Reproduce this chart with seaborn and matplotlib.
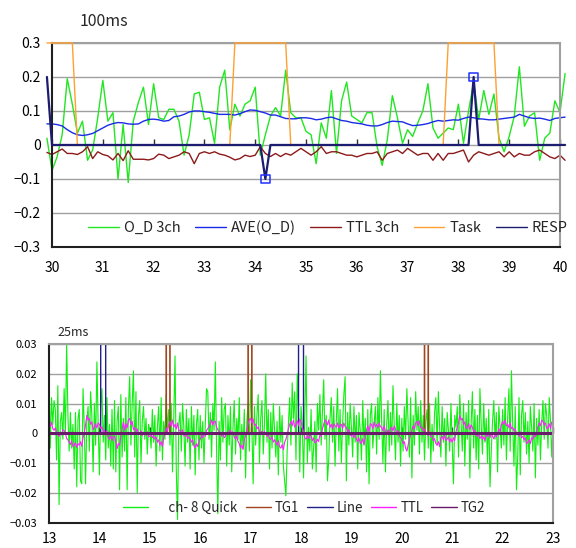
import numpy as np
import pandas as pd
from matplotlib import pyplot as plt
import seaborn as sns

# ---- 100ms chart, samples 29.9 .. 40.1 s
t100 = np.round(np.arange(299, 402) * 0.1, 1)

od_3ch = [0.02,
          -0.075, -0.035, 0.03, 0.195, 0.12, 0.035, 0.07, -0.045, -0.015, 0.08,
          0.19, 0.07, 0.095, -0.1, 0.06, -0.11, 0.07, 0.125, 0.17, 0.06,
          0.18, 0.08, 0.075, 0.105, 0.105, 0.07, -0.03, 0.03, 0.15, 0.155,
          0.075, 0.08, 0.005, 0.17, 0.22, 0.045, 0.12, 0.085, 0.12, 0.13,
          0.17, -0.03, 0.03, 0.085, 0.11, 0.085, 0.22, 0.095, 0.08, 0.08,
          0.04, 0.03, -0.055, 0.065, 0.02, 0.16, -0.025, 0.13, 0.185, 0.085,
          0.075, 0.065, 0.095, 0.095, -0.005, -0.06, 0.015, 0.145, 0.08, 0.005,
          0.045, 0.025, 0.065, 0.1, 0.18, 0.05, 0.02, 0.035, 0.05, 0.045,
          0.12, 0.005, 0.1, 0.185, 0.075, 0.16, 0.09, 0.15, 0.02, -0.02,
          0.025, 0.085, 0.23, 0.055, 0.085, 0.095, -0.045, 0.02, 0.035, 0.13,
          0.095, 0.21]

ave_od = [0.062,
          0.062, 0.06, 0.056, 0.045, 0.036, 0.03, 0.028, 0.03, 0.034, 0.042,
          0.05, 0.058, 0.063, 0.066, 0.065, 0.062, 0.061, 0.062, 0.07, 0.075,
          0.076, 0.074, 0.07, 0.072, 0.083, 0.085, 0.09, 0.097, 0.1, 0.1,
          0.098, 0.096, 0.093, 0.09, 0.09, 0.09, 0.088, 0.092, 0.098, 0.103,
          0.102, 0.098, 0.094, 0.088, 0.088, 0.083, 0.078, 0.077, 0.077, 0.08,
          0.08, 0.078, 0.074, 0.076, 0.08, 0.082, 0.077, 0.072, 0.07, 0.066,
          0.064, 0.062, 0.058, 0.056, 0.056, 0.06, 0.066, 0.07, 0.069, 0.068,
          0.062, 0.057, 0.058, 0.06, 0.063, 0.068, 0.072, 0.07, 0.072, 0.074,
          0.073, 0.078, 0.082, 0.08, 0.077, 0.076, 0.074, 0.074, 0.076, 0.078,
          0.08, 0.082, 0.09, 0.085, 0.08, 0.078, 0.079, 0.076, 0.072, 0.078,
          0.08, 0.082]

ttl_3ch = [-0.022,
           -0.028, -0.02, -0.012, -0.025, -0.025, -0.028, -0.02, -0.005, -0.04, -0.02,
           -0.028, -0.032, -0.044, -0.025, -0.046, -0.017, -0.042, -0.042, -0.042, -0.044,
           -0.04, -0.027, -0.03, -0.04, -0.035, -0.03, -0.02, -0.025, -0.055, -0.025,
           -0.02, -0.025, -0.02, -0.027, -0.03, -0.036, -0.044, -0.04, -0.03, -0.034,
           -0.03, -0.005, -0.025, -0.034, -0.025, -0.034, -0.025, -0.03, -0.02, -0.01,
           -0.02, -0.03, -0.02, -0.005, -0.025, -0.02, -0.02, -0.025, -0.03, -0.03,
           -0.035, -0.03, -0.025, -0.025, -0.02, -0.045, -0.025, -0.02, -0.015, -0.025,
           -0.01, -0.02, -0.03, -0.025, -0.025, -0.045, -0.025, -0.045, -0.025, -0.025,
           -0.02, -0.015, -0.05, -0.03, -0.02, -0.025, -0.03, -0.025, -0.02, -0.035,
           -0.02, -0.035, -0.025, -0.03, -0.03, -0.02, -0.015, -0.025, -0.035, -0.04,
           -0.03, -0.045]

task = [0.3,
        0.3, 0.3, 0.3, 0.3, 0.3, 0, 0, 0, 0, 0,
        0, 0, 0, 0, 0, 0, 0, 0, 0, 0,
        0, 0, 0, 0, 0, 0, 0, 0, 0, 0,
        0, 0, 0, 0, 0, 0, 0.3, 0.3, 0.3, 0.3,
        0.3, 0.3, 0.3, 0.3, 0.3, 0.3, 0.3, 0, 0, 0,
        0, 0, 0, 0, 0, 0, 0, 0, 0, 0,
        0, 0, 0, 0, 0, 0, 0, 0, 0, 0,
        0, 0, 0, 0, 0, 0, 0, 0, 0.3, 0.3,
        0.3, 0.3, 0.3, 0.3, 0.3, 0.3, 0.3, 0.3, 0, 0,
        0, 0, 0, 0, 0, 0, 0, 0, 0, 0,
        0, 0]

resp = [0.2,
        0, 0, 0, 0, 0, 0, 0, 0, 0, 0,
        0, 0, 0, 0, 0, 0, 0, 0, 0, 0,
        0, 0, 0, 0, 0, 0, 0, 0, 0, 0,
        0, 0, 0, 0, 0, 0, 0, 0, 0, 0,
        0, 0, -0.1, 0, 0, 0, 0, 0, 0, 0,
        0, 0, 0, 0, 0, 0, 0, 0, 0, 0,
        0, 0, 0, 0, 0, 0, 0, 0, 0, 0,
        0, 0, 0, 0, 0, 0, 0, 0, 0, 0,
        0, 0, 0, 0.2, 0, 0, 0, 0, 0, 0,
        0, 0, 0, 0, 0, 0, 0, 0, 0, 0,
        0, 0]

# ---- 25ms chart, samples 13.000 .. 23.000 s
t25 = np.round(np.arange(520, 921) * 0.025, 3)

# ch-8 Quick, in units of 0.001
quick_ch8 = [
    20, -5, 12, 3, 11, 8, -9, 16, -24, 4, 7, -2, 15, 0, 30, 6, -6, 7, -5, 3,
    -12, 7, -18, 5, 8, -16, -17, 15, 2, -17, 4, 9, -6, 14, 6, -13, 10, -4, 24, 3,
    -14, 9, 15, -3, 6, -9, 12, -5, 3, -11, 8, -12, 11, -13, 4, 9, -19, 13, -8, 5,
    -6, 12, -19, 8, 19, -4, 10, 21, -8, 14, -20, 6, 11, -10, 4, 9, -2, 5, -7, 3,
    1, -5, 8, -3, 6, -11, 2, 9, -6, 12, -9, 4, -2, 13, 1, 8, -4, 10, -13, 5,
    26, -12, -29, 3, 7, -6, 10, 2, -11, 8, -3, 5, -12, 9, -4, 6, -14, 3, 8, -9,
    6, -5, 4, -10, 3, 15, 14, -2, 7, -8, 10, 1, 24, -6, -27, 4, -9, 12, -3, 8,
    10, -11, 6, -4, 9, -13, 2, 11, -7, 5, -2, 12, -9, 3, -5, 8, -15, 4, 10, -6,
    18, 2, -17, 9, -4, 6, 13, -10, 5, 11, -7, 3, 20, -3, 8, -12, 7, -5, 10, 1,
    -8, 4, -14, 9, -3, 6, -11, -16, -21, -6, 3, 12, -4, 17, 5, 14, -9, 20, 8, -13,
    9, 3, -15, 6, 26, -10, 2, -6, 8, -12, -5, 4, -13, 10, 1, 13, -4, 7, 18, -2,
    6, -16, -9, 5, 12, -3, 9, -11, 4, 15, -6, 8, -10, 3, 13, 19, -16, 7, -4, 10,
    2, -8, 9, -3, 6, -12, 7, 1, -9, 11, -4, 5, -13, 8, -17, 6, 10, -5, 3, 9,
    -7, 12, -2, 21, 4, -10, 8, -13, 3, 11, -6, 7, -4, 16, 2, -9, 10, -3, 6, -11,
    5, -6, 9, -2, 15, 3, -8, 12, -15, 6, -4, 14, 1, 9, -7, 11, -3, 6, -9, 4,
    8, -5, 10, -10, 3, -6, 7, 12, -4, 14, 2, -8, 9, -3, 5, -11, 7, 1, -6, 10,
    -4, -17, 6, 2, 9, -8, 13, 4, -6, 10, -11, 7, -2, 11, -15, 3, 14, -5, 8, -9,
    6, -12, 15, 3, -7, 10, -3, 5, -10, 8, -18, -6, 4, 11, -2, 7, -13, 9, 2, -5,
    8, -4, 12, -9, 5, 15, -6, 21, 3, -11, 9, -19, -8, 12, -14, 6, 11, -3, 7, -7,
    4, -10, 9, 2, -6, 10, -15, 5, -4, 8, -9, 3, 11, -2, 10, 6, -5, 12, 4, -8, 3]

# TTL, in units of 0.0001
ttl_25 = [
    30, 22, 38, 15, 10, 18, 2, -5, -10, 4, -6, 12, 10, 0, -18, -22, -30, -38, -25, -45,
    -40, -32, -48, -35, -40, -28, -44, -15, 0, 28, 60, 45, 50, 30, 38, 12, 20, 32, 18, 35,
    30, 15, 22, 5, 10, -6, 8, -15, -20, -8, -25, -12, -10, -30, -52, -35, -40, -10, 15, 38,
    10, 32, 18, 45, 50, 28, 40, 12, 20, 5, 15, -5, 0, 8, -8, 4, 0, -6, 5, -12,
    -10, -2, -15, -8, -20, -12, -30, -22, -40, -28, -45, -15, 0, 18, 5, 30, 40, 25, 45, 20,
    30, 15, 35, 8, 10, -5, 12, -8, -10, -2, -18, -12, -20, -30, -22, -42, -50, -35, -45, -25,
    -20, -8, -15, 2, -10, 10, 15, 25, 30, 45, 28, 40, 40, 20, 12, 5, 0, -10, 5, -15,
    -10, 2, -5, 8, 10, -2, 5, -12, -20, -8, -28, -35, -50, -40, -55, -20, -10, 15, 30, 45,
    50, 35, 48, 28, 30, 15, 22, 5, 0, 8, -5, 6, 0, -10, -5, -18, -20, -12, -30, -22,
    -30, -40, -25, -45, -50, -38, -55, -30, -20, -5, 15, 30, 40, 25, 45, 20, 30, 42, 25, 48,
    40, 20, 5, -15, -20, -8, -18, -5, -10, -25, -15, -32, -30, -20, -28, -5, -10, 15, 30, 45,
    40, 28, 45, 20, 30, 15, 32, 25, 20, 35, 18, 28, 30, 15, 35, 22, 20, 5, 12, -5,
    -10, 2, -15, -5, -20, -28, -15, -35, -30, -18, -38, -10, 10, 25, 5, 32, 30, 15, 38, 22,
    30, 18, 35, 22, 20, 8, 25, 5, 0, 12, -5, 15, 20, 8, 25, 12, 0, 10, -8, -15,
    -20, -35, -28, -50, -60, -40, -20, -5, 10, 25, 15, 35, 40, 25, 42, 18, 20, 8, 15, 0,
    0, -8, 5, -12, -10, -25, -18, -35, -40, -28, -45, -15, -10, -22, -5, -25, -20, -12, -30, -18,
    -30, -15, -25, 5, 20, 35, 60, 45, 50, 30, 38, 15, 20, 32, 12, 28, 20, 5, 10, -8,
    -10, -2, -18, -8, -20, -12, -25, -5, -10, 5, -15, -2, -10, -18, -5, -12, 0, 15, 5, 28,
    40, 30, 45, 25, 30, 18, 35, 15, 20, 8, 15, -2, 0, -10, 5, -15, -10, -22, -15, -35,
    -30, -22, -35, -15, -20, -5, -12, 10, 20, 35, 25, 45, 40, 28, 35, 15, 20, 32, 15, 38, 30]

# trigger pulses (sample times where the channel is on)
tg1_on = [15.35, 15.375, 16.975, 17.0, 20.475, 20.5]
line_on = [14.05, 14.075, 14.1, 17.975, 18.0, 18.025]
pulse_level = 1.0

xticks100 = [30, 31, 32, 33, 34, 35, 36, 37, 38, 39, 40]
yticks100 = [-0.3, -0.2, -0.1, 0, 0.1, 0.2, 0.3]
ylabels100 = ["\u22120.3", "\u22120.2", "\u22120.1", "0", "0.1", "0.2", "0.3"]
xticks25 = [13, 14, 15, 16, 17, 18, 19, 20, 21, 22, 23]
yticks25 = [-0.03, -0.02, -0.01, 0, 0.01, 0.02, 0.03]
ylabels25 = ["\u22120.03", "\u22120.02", "\u22120.01", "0", "0.01", "0.02", "0.03"]


def pulses(times, on, level):
    hit = np.any(np.abs(times[:, None] - np.array(on)[None, :]) < 1e-6, axis=1)
    return np.where(hit, level, 0.0)


df100 = pd.DataFrame({"t": t100, "od": od_3ch, "ave": ave_od, "ttl": ttl_3ch,
                      "task": task, "resp": resp})
df25 = pd.DataFrame({"t": t25,
                     "quick": np.array(quick_ch8) * 0.001,
                     "tg1": pulses(t25, tg1_on, pulse_level),
                     "line": pulses(t25, line_on, pulse_level),
                     "ttl": np.array(ttl_25) * 0.0001,
                     "tg2": np.zeros(len(t25))})

sns.set_theme(style="white")
plt.rcParams['font.family'] = ['Noto Sans CJK JP', 'DejaVu Sans']


def frame(ax, xticks, yticks, ylabels, xfs, yfs, xpad, ypad):
    ax.set_xticks(xticks)
    ax.set_yticks(yticks)
    ax.set_yticklabels(ylabels)
    ax.set_xlabel("")
    ax.set_ylabel("")
    ax.tick_params(axis="both", length=0, labelcolor="black")
    ax.tick_params(axis="x", pad=xpad, labelsize=xfs)
    ax.tick_params(axis="y", pad=ypad, labelsize=yfs)
    ax.grid(False)
    ax.grid(axis="y", color="#a0a0a0", lw=1.0)
    ax.set_axisbelow(True)
    for s in ["top", "right"]:
        ax.spines[s].set_color("#a0a0a0")
        ax.spines[s].set_linewidth(1.5)
    for s in ["left", "bottom"]:
        ax.spines[s].set_color("#202020")
        ax.spines[s].set_linewidth(1.5)
    # tick marks sit on the zero line
    sec = ax.secondary_xaxis(0.5)
    sec.set_xticks(xticks)
    sec.xaxis.set_ticks_position("bottom")
    sec.tick_params(direction="in", length=4, width=1, color="#303030",
                    labelbottom=False, labeltop=False)
    for sp in sec.spines.values():
        sp.set_visible(False)


def put_legend(ax, anchor, fs, hl, htp, cs):
    h, l = ax.get_legend_handles_labels()
    leg = ax.legend(h, l, loc="center left", bbox_to_anchor=anchor,
                    bbox_transform=fig.transFigure, ncol=5, frameon=False,
                    fontsize=fs, borderpad=0, borderaxespad=0, handlelength=hl,
                    handletextpad=htp, columnspacing=cs)
    for ln in leg.get_lines():
        ln.set_linewidth(1.0)
    return leg


fig = plt.figure(figsize=(5.76, 5.48), dpi=100)
ax1 = fig.add_axes([0.0903, 0.5493, 0.8819, 0.3723])
ax2 = fig.add_axes([0.0851, 0.0465, 0.875, 0.3257])

# top chart (lines run a little past the frame, as in the original)
kw = dict(estimator=None, sort=False, ax=ax1, clip_on=False)
sns.lineplot(data=df100, x="t", y="od", color="#22e622", lw=1.0, label="O_D 3ch", **kw)
sns.lineplot(data=df100, x="t", y="ave", color="#1a2ae6", lw=1.0, label="AVE(O_D)", **kw)
sns.lineplot(data=df100, x="t", y="ttl", color="#8c1a1a", lw=1.0, label="TTL 3ch", **kw)
sns.lineplot(data=df100, x="t", y="task", color="#ffa030", lw=1.0, label="Task",
             zorder=3, **kw)
sns.lineplot(data=df100, x="t", y="resp", color="#1c1c70", lw=1.6, label="RESP",
             zorder=3, **kw)
hits = df100[(df100["resp"] != 0) & (df100["t"] >= 30)]
sns.scatterplot(data=hits, x="t", y="resp", marker="s", s=36, color="none",
                edgecolor="#2030ff", linewidth=1.1, ax=ax1, zorder=5)
ax1.set_xlim(30, 40)
ax1.set_ylim(-0.3, 0.3)
frame(ax1, xticks100, yticks100, ylabels100, 10, 10, 10, 8)
put_legend(ax1, (88 / 576, 1 - 228 / 548), 10.5, 2.1, 0.35, 1.0)

# bottom chart
kw = dict(estimator=None, sort=False, ax=ax2)
sns.lineplot(data=df25, x="t", y="quick", color="#11ee11", lw=0.8,
             label="\u3000 ch- 8 Quick", **kw)
sns.lineplot(data=df25, x="t", y="tg1", color="#a0461e", lw=1.2, label="TG1", **kw)
sns.lineplot(data=df25, x="t", y="line", color="#20208a", lw=1.0, label="Line", **kw)
sns.lineplot(data=df25, x="t", y="ttl", color="#ff22ff", lw=0.8, label="TTL", **kw)
sns.lineplot(data=df25, x="t", y="tg2", color="#6a1a6a", lw=2.2, label="TG2", **kw)
ax2.set_xlim(13, 23)
ax2.set_ylim(-0.03, 0.03)
frame(ax2, xticks25, yticks25, ylabels25, 10, 8, 7, 8.5)
put_legend(ax2, (123 / 576, 1 - 508 / 548), 9.6, 1.9, 0.3, 0.6)

fig.text(80 / 576, 1 - 21 / 548, "100ms", fontsize=11.5, va="center", ha="left")
fig.text(57 / 576, 1 - 333 / 548, "25ms", fontsize=9, va="center", ha="left")

fig.savefig("out.png", dpi=100)
